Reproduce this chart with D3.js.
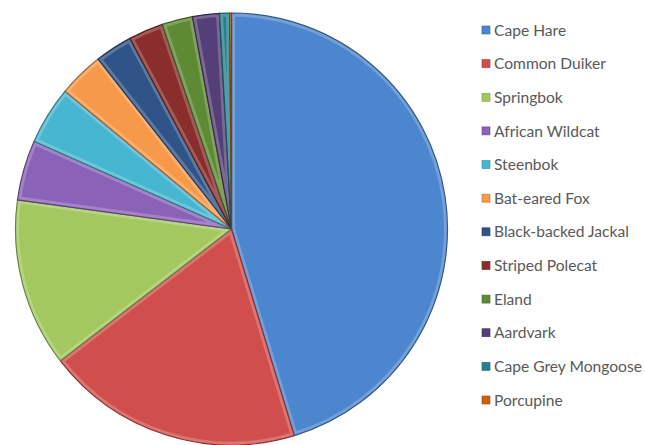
<!DOCTYPE html>
<html>
<head>
<meta charset="utf-8">
<script src="https://cdn.jsdelivr.net/npm/d3@7"></script>
<style>
  body { margin: 0; background: #fff; }
  .legend text { font-family: Lato, "Open Sans", sans-serif; font-size: 15.6px; fill: #595959; }
</style>
</head>
<body>
<script>
// species and their share of the sightings (percent)
var species = ["Cape Hare","Common Duiker","Springbok","African Wildcat","Steenbok","Bat-eared Fox",
               "Black-backed Jackal","Striped Polecat","Eland","Aardvark","Cape Grey Mongoose","Porcupine"];
var shares = [45.3, 19.25, 12.6, 4.5, 4.35, 3.4, 2.8, 2.6, 2.3, 2.0, 0.75, 0.14];
var colours = ["#4c86cf","#d04f4c","#a3c85f","#8a62b8","#47b7d1","#f7994a",
               "#2f5488","#8a2e2c","#5f8a34","#553f78","#22808f","#c9610f"];

var width = 645, height = 445;
var cx = 231.5, cy = 229, radius = 216;

var data = species.map(function(d, i) { return {name: d, value: shares[i]}; });

var color = d3.scaleOrdinal().domain(species).range(colours);

var svg = d3.select("body").append("svg")
    .attr("width", width)
    .attr("height", height);

var defs = svg.append("defs");

var pie = d3.pie().sort(null).value(function(d) { return d.value; });
var arc = d3.arc().innerRadius(0).outerRadius(radius);
var arcs = pie(data);

// clip paths so the bevel highlight stays inside each slice
arcs.forEach(function(d, i) {
    defs.append("clipPath").attr("id", "clip" + i)
        .append("path").attr("d", arc(d));
});

var g = svg.append("g").attr("transform", "translate(" + cx + "," + cy + ")");

var slice = g.selectAll(".slice").data(arcs).enter()
    .append("g").attr("class", "slice");

slice.append("path")
    .attr("d", arc)
    .style("fill", function(d) { return color(d.data.name); });

// soft light bevel along the edges
slice.append("path")
    .attr("d", arc)
    .attr("clip-path", function(d, i) { return "url(#clip" + i + ")"; })
    .style("fill", "none")
    .style("stroke", "#fff")
    .style("stroke-opacity", 0.22)
    .style("stroke-width", 7);

// darker outline
slice.append("path")
    .attr("d", arc)
    .style("fill", "none")
    .style("stroke", function(d) { return d3.color(color(d.data.name)).darker(1.2); })
    .style("stroke-width", 1.2)
    .style("stroke-linejoin", "round");

// legend
var legendY = d3.scalePoint().domain(species).range([30, 400]);

var legend = svg.append("g").attr("class", "legend")
    .selectAll("g").data(species).enter()
    .append("g")
    .attr("transform", function(d) { return "translate(482," + legendY(d) + ")"; });

legend.append("rect")
    .attr("x", 0).attr("y", -4)
    .attr("width", 8).attr("height", 8)
    .style("fill", function(d) { return color(d); })
    .style("stroke", function(d) { return d3.color(color(d)).darker(0.8); })
    .style("stroke-width", 0.6);

legend.append("text")
    .attr("x", 12)
    .attr("dy", "0.36em")
    .text(function(d) { return d; });
</script>
</body>
</html>
